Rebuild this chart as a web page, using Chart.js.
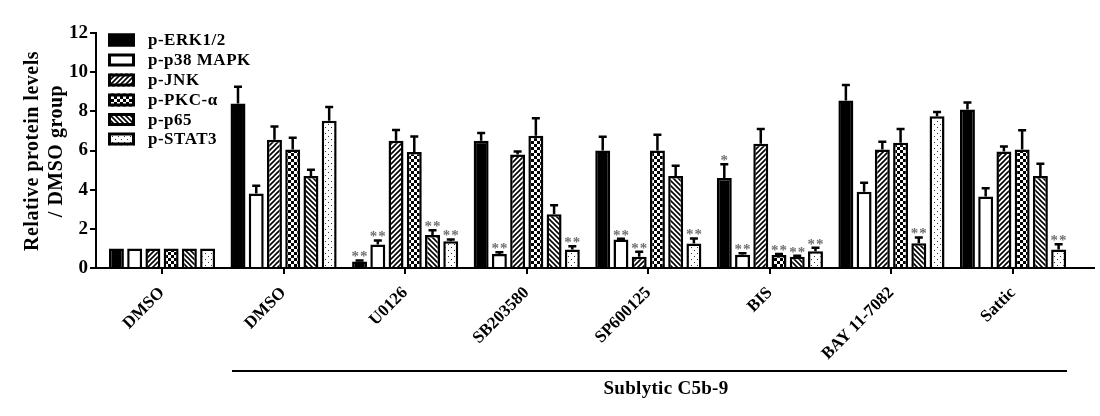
<!DOCTYPE html>
<html>
<head>
<meta charset="utf-8">
<script src="https://cdn.jsdelivr.net/npm/chart.js@4"></script>
<style>
html,body{margin:0;padding:0;background:#fff;}
canvas{display:block;}
</style>
</head>
<body>
<canvas id="c" width="1100" height="416"></canvas>
<script>
// ---- data ----
const categories = ['DMSO', 'DMSO', 'U0126', 'SB203580', 'SP600125', 'BIS', 'BAY 11-7082', 'Sattic'];
const seriesNames = ['p-ERK1/2', 'p-p38 MAPK', 'p-JNK', 'p-PKC-\u03b1', 'p-p65', 'p-STAT3'];
const ERK   = [1, 8.4, 0.33, 6.5, 6.0, 4.6, 8.55, 8.1];
const ERKerr = [0, 0.85, 0.05, 0.4, 0.7, 0.7, 0.8, 0.35];
const P38   = [1, 3.8, 1.2, 0.72, 1.45, 0.68, 3.9, 3.65];
const P38err = [0, 0.4, 0.2, 0.08, 0.05, 0.07, 0.45, 0.42];
const JNK   = [1, 6.55, 6.5, 5.8, 0.58, 6.35, 6.05, 5.95];
const JNKerr = [0, 0.68, 0.55, 0.15, 0.25, 0.75, 0.4, 0.25];
const PKC   = [1, 6.05, 5.92, 6.75, 6.0, 0.66, 6.4, 6.05];
const PKCerr = [0, 0.6, 0.8, 0.9, 0.8, 0.05, 0.7, 0.98];
const P65   = [1, 4.7, 1.68, 2.75, 4.7, 0.58, 1.26, 4.7];
const P65err = [0, 0.32, 0.25, 0.45, 0.52, 0.05, 0.3, 0.62];
const STAT3 = [1, 7.52, 1.36, 0.95, 1.25, 0.86, 7.75, 0.95];
const STAT3err = [0, 0.7, 0.1, 0.16, 0.26, 0.17, 0.22, 0.26];
const ERKsig   = ['', '', '**', '', '', '*', '', ''];
const P38sig   = ['', '', '**', '**', '**', '**', '', ''];
const JNKsig   = ['', '', '', '', '**', '', '', ''];
const PKCsig   = ['', '', '', '', '', '**', '', ''];
const P65sig   = ['', '', '**', '', '', '**', '**', ''];
const STAT3sig = ['', '', '**', '**', '**', '**', '', '**'];
const yTicks = [0, 2, 4, 6, 8, 10, 12];
const yTitle = ['Relative protein levels', '/ DMSO group'];
const groupLabel = 'Sublytic C5b-9';

// ---- patterns ----
function mk(w, h, draw) {
  const cv = document.createElement('canvas');
  cv.width = w; cv.height = h;
  const g = cv.getContext('2d');
  g.fillStyle = '#fff'; g.fillRect(0, 0, w, h);
  draw(g, w, h);
  return document.getElementById('c').getContext('2d').createPattern(cv, 'repeat');
}
const patFwd = mk(5, 5, (g, w, h) => {
  g.strokeStyle = '#000'; g.lineWidth = 1.6;
  g.beginPath();
  g.moveTo(-1, h + 1); g.lineTo(w + 1, -1);
  g.moveTo(-1, 1); g.lineTo(1, -1);
  g.moveTo(w - 1, h + 1); g.lineTo(w + 1, h - 1);
  g.stroke();
});
const patBack = mk(5, 5, (g, w, h) => {
  g.strokeStyle = '#000'; g.lineWidth = 1.6;
  g.beginPath();
  g.moveTo(-1, -1); g.lineTo(w + 1, h + 1);
  g.moveTo(w - 1, -1); g.lineTo(w + 1, 1);
  g.moveTo(-1, h - 1); g.lineTo(1, h + 1);
  g.stroke();
});
const patCheck = mk(6, 6, (g) => {
  g.fillStyle = '#000';
  g.fillRect(0, 0, 3, 3); g.fillRect(3, 3, 3, 3);
});
const patDots = mk(6, 6, (g) => {
  g.fillStyle = '#333';
  g.fillRect(1, 1, 1, 1); g.fillRect(4, 4, 1, 1);
});

const values = [ERK, P38, JNK, PKC, P65, STAT3];
const errors = [ERKerr, P38err, JNKerr, PKCerr, P65err, STAT3err];
const sigs = [ERKsig, P38sig, JNKsig, PKCsig, P65sig, STAT3sig];
const fills = ['#000', '#fff', patFwd, patCheck, patBack, patDots];

const SERIF = '"Liberation Serif", "Times New Roman", serif';

const datasets = values.map((vals, k) => ({
  label: seriesNames[k],
  data: vals.map((v, i) => ({x: i, y: v})),
  backgroundColor: fills[k],
  borderColor: '#000',
  borderWidth: 2.5,
  borderSkipped: 'start',
  categoryPercentage: 0.9,
  barPercentage: 0.82,
  errs: errors[k],
  sig: sigs[k]
}));

function spaced(ctx, px) { if ('letterSpacing' in ctx) ctx.letterSpacing = px + 'px'; }

const decor = {
  id: 'decor',
  afterDatasetsDraw(chart) {
    const ctx = chart.ctx;
    const ys = chart.scales.y;
    ctx.save();
    chart.data.datasets.forEach((ds, k) => {
      const meta = chart.getDatasetMeta(k);
      meta.data.forEach((bar, i) => {
        const v = values[k][i];
        const e = ds.errs[i];
        const yTop = ys.getPixelForValue(v + e);
        if (e > 0) {
          ctx.strokeStyle = '#000';
          ctx.lineWidth = 2.5;
          ctx.beginPath();
          ctx.moveTo(bar.x, bar.y);
          ctx.lineTo(bar.x, yTop);
          ctx.moveTo(bar.x - 4, yTop);
          ctx.lineTo(bar.x + 4, yTop);
          ctx.stroke();
        }
        const s = ds.sig[i];
        if (s) {
          ctx.fillStyle = '#707070';
          ctx.font = 'bold 15px ' + SERIF;
          spaced(ctx, 1);
          ctx.textAlign = 'center';
          ctx.textBaseline = 'middle';
          ctx.fillText(s, bar.x + 0.5, yTop - 3);
          spaced(ctx, 0);
        }
      });
    });
    ctx.restore();
  },
  afterDraw(chart) {
    const ctx = chart.ctx;
    ctx.save();
    // y title
    ctx.fillStyle = '#000';
    ctx.font = 'bold 20px ' + SERIF;
    spaced(ctx, 0.5);
    ctx.textAlign = 'center';
    ctx.textBaseline = 'middle';
    [33, 57].forEach((x, i) => {
      ctx.save();
      ctx.translate(x, 151);
      ctx.rotate(-Math.PI / 2);
      ctx.fillText(yTitle[i], 0, 0);
      ctx.restore();
    });
    // legend
    const rowY = [40, 60, 80, 100, 119.5, 139];
    seriesNames.forEach((n, k) => {
      const y = rowY[k];
      ctx.fillStyle = fills[k];
      ctx.fillRect(108, y - 6.5, 27, 13);
      ctx.strokeStyle = '#000';
      ctx.lineWidth = 3;
      ctx.strokeRect(109.5, y - 5, 24, 10);
      ctx.fillStyle = '#000';
      ctx.font = 'bold 17px ' + SERIF;
      spaced(ctx, 0.5);
      ctx.textAlign = 'left';
      ctx.textBaseline = 'middle';
      ctx.fillText(n, 148, y + 1);
    });
    // group bracket
    ctx.strokeStyle = '#000';
    ctx.lineWidth = 2;
    ctx.beginPath();
    ctx.moveTo(232, 371);
    ctx.lineTo(1067, 371);
    ctx.stroke();
    ctx.font = 'bold 19px ' + SERIF;
    spaced(ctx, 0.3);
    ctx.textAlign = 'center';
    ctx.textBaseline = 'middle';
    ctx.fillText(groupLabel, 666, 389);
    ctx.restore();
  }
};

new Chart(document.getElementById('c'), {
  type: 'bar',
  data: { datasets },
  options: {
    responsive: false,
    animation: false,
    devicePixelRatio: 1,
    layout: { padding: { left: 0, top: 33, right: 6, bottom: 0 } },
    plugins: { legend: { display: false }, tooltip: { enabled: false } },
    scales: {
      x: {
        type: 'linear',
        offset: false,
        min: -0.543,
        max: 7.666,
        afterBuildTicks: (axis) => { axis.ticks = categories.map((c, i) => ({ value: i })); },
        afterFit: (axis) => { axis.height = 148; },
        grid: { display: true, drawOnChartArea: false, drawTicks: true, tickLength: 6, color: '#000', lineWidth: 2, offset: false },
        border: { display: true, color: '#000', width: 2 },
        ticks: {
          autoSkip: false,
          minRotation: 45,
          maxRotation: 45,
          padding: 9,
          color: '#000',
          font: { family: SERIF, size: 17, weight: 'bold' },
          callback: (v) => categories[v] !== undefined ? categories[v] : ''
        }
      },
      y: {
        min: 0,
        max: 12,
        afterBuildTicks: (axis) => { axis.ticks = yTicks.map(v => ({ value: v })); },
        afterFit: (axis) => { axis.width = 96; },
        grid: { display: true, drawOnChartArea: false, drawTicks: true, tickLength: 6, color: '#000', lineWidth: 2 },
        border: { display: true, color: '#000', width: 2 },
        ticks: {
          padding: 2,
          color: '#000',
          font: { family: SERIF, size: 19, weight: 'bold' }
        }
      }
    }
  },
  plugins: [decor]
});
</script>
</body>
</html>
